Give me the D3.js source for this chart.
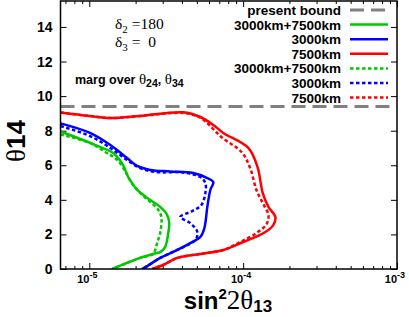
<!DOCTYPE html>
<html>
<head>
<meta charset="utf-8">
<script src="https://cdn.jsdelivr.net/npm/d3@7"></script>
<style>
  body { margin: 0; background: #fff; }
  text { fill: #000; }
</style>
</head>
<body>
<div id="chart"></div>
<script>
// contour data: sin^2 2theta13 (x) vs theta14 in degrees (y)
const greenSolidX = [6.5e-6, 9.1e-6, 1.17e-5, 1.43e-5, 1.66e-5, 1.79e-5, 2.05e-5, 2.49e-5, 2.89e-5, 3.21e-5, 3.31e-5, 3.26e-5, 3.11e-5, 2.89e-5, 2.60e-5, 2.14e-5, 1.76e-5, 1.41e-5];
const greenSolidY = [7.95, 7.46, 7.06, 6.71, 6.01, 5.32, 4.57, 3.99, 3.59, 3.12, 2.66, 2.08, 1.27, 0.98, 0.87, 0.64, 0.35, 0];

const blueSolidX = [6.5e-6, 1.01e-5, 1.37e-5, 1.76e-5, 2.05e-5, 2.49e-5, 3.36e-5, 4.74e-5, 5.85e-5, 6.40e-5, 6.12e-5, 5.85e-5, 5.60e-5, 5.27e-5, 4.53e-5, 3.73e-5, 2.89e-5, 2.38e-5, 2.20e-5];
const blueSolidY = [8.42, 7.87, 7.17, 6.42, 5.96, 5.73, 5.64, 5.55, 5.26, 5.03, 4.57, 3.59, 2.37, 1.85, 1.50, 1.10, 0.64, 0.17, 0];

const redSolidX = [6.5e-6, 1.0e-5, 1.37e-5, 2.14e-5, 4.08e-5, 5.27e-5, 6.40e-5, 7.43e-5, 1.08e-4, 1.24e-4, 1.34e-4, 1.46e-4, 1.62e-4, 1.57e-4, 1.36e-4, 1.0e-4, 7.43e-5, 5.27e-5, 3.73e-5, 3.02e-5, 2.56e-5];
const redSolidY = [9.05, 8.85, 8.73, 8.85, 9.06, 8.79, 8.33, 7.87, 7.0, 5.9, 4.4, 3.59, 3.01, 2.54, 2.08, 1.56, 1.10, 0.87, 0.64, 0.23, 0];

const greenDotX = [6.5e-6, 1.01e-5, 1.27e-5, 1.52e-5, 1.71e-5, 1.87e-5, 2.14e-5, 2.49e-5, 2.81e-5, 2.94e-5, 2.89e-5, 2.76e-5, 2.68e-5, 2.60e-5, 2.14e-5, 1.76e-5, 1.41e-5];
const greenDotY = [7.78, 7.29, 6.77, 6.30, 5.67, 5.03, 4.40, 3.88, 3.41, 3.01, 2.08, 1.50, 1.10, 0.87, 0.64, 0.35, 0];

const blueDotX = [6.5e-6, 1.01e-5, 1.37e-5, 1.76e-5, 2.14e-5, 2.68e-5, 4.08e-5, 5.27e-5, 5.68e-5, 5.68e-5, 5.35e-5, 4.67e-5, 3.90e-5, 4.53e-5, 5.04e-5, 4.89e-5, 4.08e-5, 3.73e-5, 2.89e-5, 2.38e-5, 2.20e-5];
const blueDotY = [8.27, 7.69, 7.0, 6.30, 5.84, 5.61, 5.58, 5.32, 4.97, 4.40, 3.70, 3.35, 3.01, 2.66, 2.14, 1.68, 1.27, 1.10, 0.64, 0.17, 0];

const redDotX = [6.5e-6, 1.0e-5, 1.37e-5, 2.14e-5, 4.08e-5, 5.27e-5, 6.3e-5, 7.3e-5, 9.8e-5, 1.11e-4, 1.22e-4, 1.34e-4, 1.46e-4, 1.42e-4, 1.22e-4, 9.6e-5, 7.43e-5, 5.27e-5, 3.73e-5, 3.02e-5, 2.56e-5];
const redDotY = [9.05, 8.85, 8.73, 8.85, 9.02, 8.75, 8.15, 7.6, 6.75, 5.84, 4.57, 3.82, 3.12, 2.60, 2.08, 1.56, 1.10, 0.87, 0.64, 0.23, 0];

const presentBound = 9.4;

const legendLabels = ['present bound', '3000km+7500km', '3000km', '7500km', '3000km+7500km', '3000km', '7500km'];
const yTicks = [0, 2, 4, 6, 8, 10, 12, 14];
const xMajor = [1e-5, 1e-4, 1e-3];
const xMajorExp = ['-5', '-4', '-3'];

const sans = '"Liberation Sans", Arial, Helvetica, sans-serif';
const serif = '"Liberation Serif", "Times New Roman", serif';

const margin = {top: 1, right: 12, bottom: 48, left: 60.5};
const width = 409, height = 317;

const svg = d3.select('#chart').append('svg')
    .attr('width', width)
    .attr('height', height);

const x = d3.scaleLog()
    .domain([6.5e-6, 1e-3])
    .range([margin.left, width - margin.right]);

const y = d3.scaleLinear()
    .domain([0, 15.5])
    .range([height - margin.bottom, margin.top]);

// minor ticks on log axis
let xMinor = [];
for (let e = -6; e <= -4; e++) {
  for (let d = 2; d <= 9; d++) {
    const v = d * Math.pow(10, e);
    if (v >= 6.5e-6 && v <= 1e-3) xMinor.push(v);
  }
}

svg.append('defs').append('clipPath').attr('id', 'clip')
  .append('rect')
    .attr('x', x.range()[0]).attr('y', y.range()[1])
    .attr('width', x.range()[1] - x.range()[0])
    .attr('height', y.range()[0] - y.range()[1]);

function tickAxis(axis, vals, size, tr) {
  const g = svg.append('g')
      .attr('transform', tr)
      .call(axis.tickValues(vals).tickSize(size).tickFormat(''));
  g.select('.domain').remove();
  g.selectAll('line').attr('stroke', '#000').attr('stroke-width', 1);
  return g;
}

const y0 = y(0), yTop = y(15.5);
tickAxis(d3.axisBottom(x), xMinor, -3, `translate(0,${y0})`);
tickAxis(d3.axisBottom(x), xMajor, -6, `translate(0,${y0})`);
tickAxis(d3.axisTop(x), xMinor, -3, `translate(0,${yTop})`);
tickAxis(d3.axisTop(x), xMajor, -6, `translate(0,${yTop})`);
tickAxis(d3.axisRight(y), yTicks, -6, `translate(${x.range()[1]},0)`);

const yAxis = svg.append('g')
    .attr('transform', `translate(${x.range()[0]},0)`)
    .call(d3.axisLeft(y).tickValues(yTicks).tickSize(-6).tickPadding(8));
yAxis.select('.domain').remove();
yAxis.selectAll('line').attr('stroke', '#000');
yAxis.selectAll('text')
    .attr('font-family', sans).attr('font-weight', 'bold').attr('font-size', 14)
    .attr('fill', '#000');

// x tick labels 10^n
xMajor.forEach((v, i) => {
  const t = svg.append('text')
      .attr('x', x(v) - 2).attr('y', y0 + 14)
      .attr('text-anchor', 'middle')
      .attr('font-family', sans).attr('font-weight', 'bold').attr('font-size', 11);
  t.append('tspan').text('10');
  t.append('tspan').attr('dy', -5).attr('font-size', 9).text(xMajorExp[i]);
});

// present bound
svg.append('line')
    .attr('x1', x.range()[0]).attr('x2', x.range()[1])
    .attr('y1', y(presentBound)).attr('y2', y(presentBound))
    .attr('stroke', '#808080').attr('stroke-width', 3)
    .attr('stroke-dasharray', '14,7');

const series = [
  {xs: greenSolidX, ys: greenSolidY, color: '#00c800', dash: null},
  {xs: blueSolidX, ys: blueSolidY, color: '#0000ff', dash: null},
  {xs: redSolidX, ys: redSolidY, color: '#ff0000', dash: null},
  {xs: greenDotX, ys: greenDotY, color: '#00c800', dash: '3.5,2.5'},
  {xs: blueDotX, ys: blueDotY, color: '#0000ff', dash: '3.5,2.5'},
  {xs: redDotX, ys: redDotY, color: '#ff0000', dash: '3.5,2.5'}
];

const line = d3.line()
    .x(d => x(d[0]))
    .y(d => y(d[1]))
    .curve(d3.curveCatmullRom.alpha(0.5));

const curves = svg.append('g').attr('clip-path', 'url(#clip)');
series.forEach(s => {
  curves.append('path')
      .datum(d3.zip(s.xs, s.ys))
      .attr('d', line)
      .attr('fill', 'none')
      .attr('stroke', s.color)
      .attr('stroke-width', 2.5)
      .attr('stroke-dasharray', s.dash);
});

// frame
svg.append('rect')
    .attr('x', x.range()[0]).attr('y', yTop)
    .attr('width', x.range()[1] - x.range()[0])
    .attr('height', y0 - yTop)
    .attr('fill', 'none').attr('stroke', '#000').attr('stroke-width', 1.5);

// legend
const legendStyles = [{color: '#808080', dash: '14,7', w: 3}]
  .concat(series.map(s => ({color: s.color, dash: s.dash, w: 2.5})));
const leg = svg.append('g');
legendLabels.forEach((lab, i) => {
  const ly = 10 + i * 14.6;
  leg.append('text')
      .attr('x', 341).attr('y', ly + 5)
      .attr('text-anchor', 'end')
      .attr('font-family', sans).attr('font-weight', 'bold').attr('font-size', 13.5)
      .text(lab);
  leg.append('line')
      .attr('x1', 350).attr('x2', 388)
      .attr('y1', ly).attr('y2', ly)
      .attr('stroke', legendStyles[i].color)
      .attr('stroke-width', legendStyles[i].w)
      .attr('stroke-dasharray', legendStyles[i].dash);
});

// annotations
function delta(sub, rest, yy) {
  const t = svg.append('text')
      .attr('x', 115).attr('y', yy)
      .attr('font-family', serif).attr('font-size', 15.5);
  t.append('tspan').text('\u03b4');
  t.append('tspan').attr('dy', 4).attr('font-size', 11).text(sub);
  t.append('tspan').attr('dy', -4).attr('xml:space', 'preserve').text(rest);
}
delta('2', ' =180', 29);
delta('3', ' =  0', 47);

const marg = svg.append('text')
    .attr('x', 75).attr('y', 84)
    .attr('font-family', sans).attr('font-weight', 'bold').attr('font-size', 12.5);
marg.append('tspan').text('marg over ');
marg.append('tspan').attr('font-family', serif).attr('font-weight', 'normal').attr('font-size', 15).text('\u03b8');
marg.append('tspan').attr('dy', 3).attr('font-size', 10.5).text('24');
marg.append('tspan').attr('dy', -3).text(', ');
marg.append('tspan').attr('font-family', serif).attr('font-weight', 'normal').attr('font-size', 15).text('\u03b8');
marg.append('tspan').attr('dy', 3).attr('font-size', 10.5).text('34');

// axis titles
const xt = svg.append('text')
    .attr('x', 228).attr('y', 309)
    .attr('text-anchor', 'middle')
    .attr('font-family', sans).attr('font-weight', 'bold').attr('font-size', 24);
xt.append('tspan').text('sin');
xt.append('tspan').attr('dy', -10).attr('font-size', 15).text('2');
xt.append('tspan').attr('dy', 10).attr('font-family', serif).attr('font-weight', 'normal').attr('font-size', 27).text('2\u03b8');
xt.append('tspan').attr('dy', 3).attr('font-size', 17).text('13');

const yt = svg.append('text')
    .attr('transform', 'translate(25,141) rotate(-90)')
    .attr('text-anchor', 'middle')
    .attr('font-family', sans).attr('font-weight', 'bold').attr('font-size', 22);
yt.append('tspan').attr('font-family', serif).attr('font-weight', 'normal').attr('font-size', 27).text('\u03b8');
yt.append('tspan').attr('font-size', 26).text('14');
</script>
</body>
</html>
